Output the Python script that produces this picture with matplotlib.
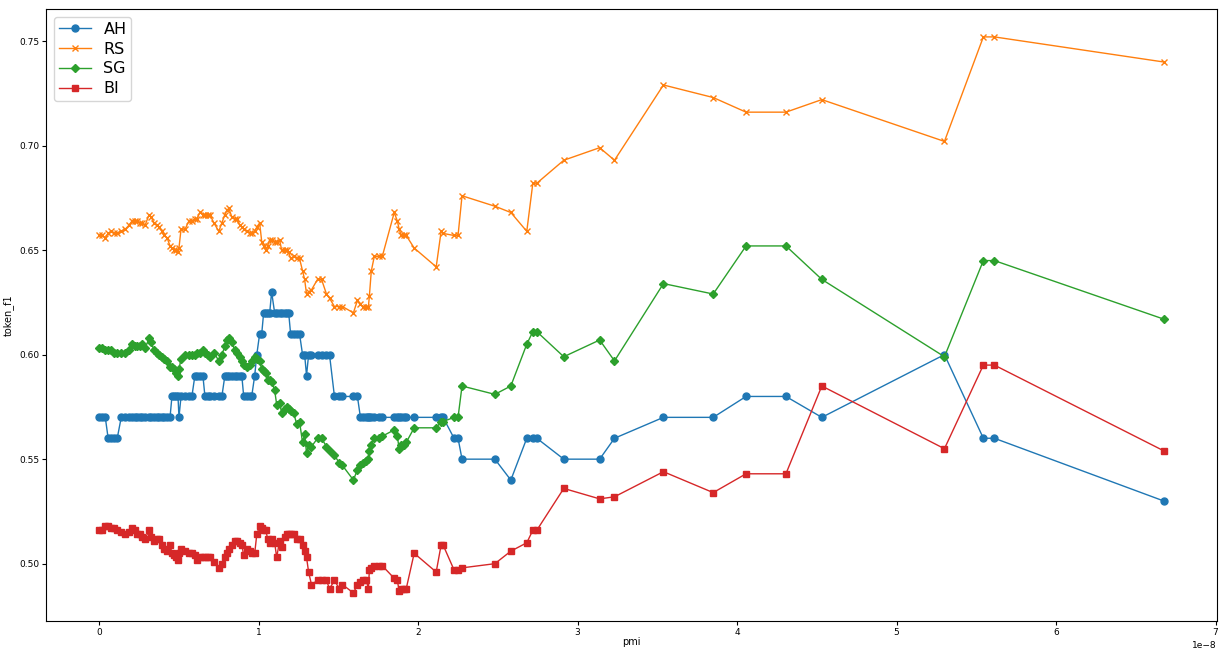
import matplotlib
matplotlib.use("Agg")
import matplotlib.pyplot as plt
import numpy as np

# pmi values (in units of 1e-8)
pmi = [
    0.000, 0.019, 0.038, 0.056, 0.075, 0.094, 0.113, 0.138, 0.163, 0.188,
    0.206, 0.225, 0.238, 0.256, 0.269, 0.288, 0.313, 0.325, 0.344, 0.363,
    0.375, 0.394, 0.406, 0.425, 0.444, 0.456, 0.469, 0.481, 0.494, 0.500,
    0.513, 0.538, 0.563, 0.581, 0.600, 0.613, 0.631, 0.650, 0.663, 0.681,
    0.694, 0.719, 0.750, 0.769, 0.788, 0.800, 0.813, 0.831, 0.850, 0.863,
    0.881, 0.894, 0.906, 0.925, 0.944, 0.956, 0.975, 0.988, 1.006, 1.019,
    1.031, 1.044, 1.056, 1.069, 1.081, 1.100, 1.113, 1.131, 1.144, 1.163,
    1.175, 1.188, 1.200, 1.219, 1.238, 1.256, 1.275, 1.288, 1.300, 1.313,
    1.331, 1.369, 1.394, 1.425, 1.444, 1.475, 1.506, 1.525, 1.594, 1.619,
    1.638, 1.656, 1.675, 1.688, 1.694, 1.706, 1.725, 1.756, 1.775, 1.850,
    1.869, 1.881, 1.894, 1.913, 1.925, 1.975, 2.113, 2.144, 2.156, 2.225,
    2.250, 2.275, 2.481, 2.581, 2.681, 2.719, 2.744, 2.913, 3.138, 3.231,
    3.538, 3.850, 4.056, 4.306, 4.531, 5.300, 5.544, 5.613, 6.675,
]

AH = [
    0.57, 0.57, 0.57, 0.56, 0.56, 0.56, 0.56, 0.57, 0.57, 0.57,
    0.57, 0.57, 0.57, 0.57, 0.57, 0.57, 0.57, 0.57, 0.57, 0.57,
    0.57, 0.57, 0.57, 0.57, 0.57, 0.58, 0.58, 0.58, 0.58, 0.57,
    0.58, 0.58, 0.58, 0.58, 0.59, 0.59, 0.59, 0.59, 0.58, 0.58,
    0.58, 0.58, 0.58, 0.58, 0.59, 0.59, 0.59, 0.59, 0.59, 0.59,
    0.59, 0.59, 0.58, 0.58, 0.58, 0.58, 0.59, 0.60, 0.61, 0.61,
    0.62, 0.62, 0.62, 0.62, 0.63, 0.62, 0.62, 0.62, 0.62, 0.62,
    0.62, 0.62, 0.61, 0.61, 0.61, 0.61, 0.60, 0.60, 0.59, 0.60,
    0.60, 0.60, 0.60, 0.60, 0.60, 0.58, 0.58, 0.58, 0.58, 0.58,
    0.57, 0.57, 0.57, 0.57, 0.57, 0.57, 0.57, 0.57, 0.57, 0.57,
    0.57, 0.57, 0.57, 0.57, 0.57, 0.57, 0.57, 0.57, 0.57, 0.56,
    0.56, 0.55, 0.55, 0.54, 0.56, 0.56, 0.56, 0.55, 0.55, 0.56,
    0.57, 0.57, 0.58, 0.58, 0.57, 0.60, 0.56, 0.56, 0.53,
]

RS = [
    0.657, 0.657, 0.656, 0.658, 0.659, 0.658, 0.658, 0.659, 0.660, 0.662,
    0.664, 0.664, 0.664, 0.663, 0.663, 0.662, 0.667, 0.666, 0.663, 0.662,
    0.661, 0.659, 0.657, 0.656, 0.652, 0.651, 0.650, 0.650, 0.649, 0.651,
    0.660, 0.660, 0.664, 0.664, 0.665, 0.665, 0.668, 0.667, 0.667, 0.667,
    0.667, 0.663, 0.659, 0.663, 0.667, 0.669, 0.670, 0.666, 0.665, 0.665,
    0.662, 0.661, 0.660, 0.659, 0.658, 0.658, 0.659, 0.661, 0.663, 0.654,
    0.652, 0.650, 0.652, 0.655, 0.655, 0.654, 0.654, 0.655, 0.650, 0.650,
    0.650, 0.649, 0.646, 0.647, 0.646, 0.646, 0.640, 0.636, 0.629, 0.630,
    0.631, 0.636, 0.636, 0.629, 0.627, 0.623, 0.623, 0.623, 0.620, 0.626,
    0.624, 0.623, 0.623, 0.623, 0.628, 0.640, 0.647, 0.647, 0.647, 0.668,
    0.664, 0.660, 0.657, 0.657, 0.657, 0.651, 0.642, 0.659, 0.658, 0.657,
    0.657, 0.676, 0.671, 0.668, 0.659, 0.682, 0.682, 0.693, 0.699, 0.693,
    0.729, 0.723, 0.716, 0.716, 0.722, 0.702, 0.752, 0.752, 0.740,
]

SG = [
    0.603, 0.603, 0.602, 0.602, 0.602, 0.601, 0.601, 0.601, 0.601, 0.602,
    0.605, 0.604, 0.604, 0.604, 0.605, 0.603, 0.608, 0.606, 0.602, 0.601,
    0.600, 0.599, 0.598, 0.597, 0.594, 0.594, 0.593, 0.591, 0.590, 0.593,
    0.598, 0.600, 0.600, 0.600, 0.600, 0.601, 0.601, 0.602, 0.601, 0.600,
    0.599, 0.601, 0.597, 0.600, 0.604, 0.607, 0.608, 0.606, 0.602, 0.601,
    0.599, 0.597, 0.595, 0.594, 0.595, 0.597, 0.599, 0.598, 0.597, 0.593,
    0.592, 0.591, 0.588, 0.588, 0.587, 0.583, 0.576, 0.577, 0.572, 0.574,
    0.575, 0.574, 0.573, 0.572, 0.567, 0.568, 0.558, 0.562, 0.553, 0.557,
    0.556, 0.560, 0.560, 0.556, 0.554, 0.552, 0.548, 0.547, 0.540, 0.545,
    0.547, 0.548, 0.549, 0.550, 0.554, 0.557, 0.560, 0.560, 0.561, 0.564,
    0.561, 0.555, 0.557, 0.557, 0.558, 0.565, 0.565, 0.568, 0.568, 0.570,
    0.570, 0.585, 0.581, 0.585, 0.605, 0.611, 0.611, 0.599, 0.607, 0.597,
    0.634, 0.629, 0.652, 0.652, 0.636, 0.599, 0.645, 0.645, 0.617,
]

BI = [
    0.516, 0.516, 0.518, 0.518, 0.517, 0.517, 0.516, 0.515, 0.514, 0.515,
    0.517, 0.516, 0.514, 0.514, 0.513, 0.512, 0.516, 0.513, 0.511, 0.512,
    0.512, 0.509, 0.507, 0.506, 0.509, 0.505, 0.504, 0.503, 0.502, 0.505,
    0.507, 0.506, 0.505, 0.505, 0.504, 0.502, 0.503, 0.503, 0.503, 0.503,
    0.503, 0.501, 0.498, 0.500, 0.503, 0.505, 0.507, 0.509, 0.511, 0.511,
    0.510, 0.509, 0.504, 0.507, 0.506, 0.505, 0.505, 0.514, 0.518, 0.517,
    0.516, 0.516, 0.512, 0.510, 0.512, 0.510, 0.503, 0.511, 0.508, 0.513,
    0.514, 0.514, 0.514, 0.514, 0.512, 0.512, 0.509, 0.506, 0.503, 0.496,
    0.490, 0.492, 0.492, 0.492, 0.488, 0.492, 0.488, 0.490, 0.486, 0.490,
    0.491, 0.492, 0.492, 0.488, 0.497, 0.498, 0.499, 0.499, 0.499, 0.493,
    0.492, 0.487, 0.488, 0.488, 0.488, 0.505, 0.496, 0.509, 0.509, 0.497,
    0.497, 0.498, 0.500, 0.506, 0.510, 0.516, 0.516, 0.536, 0.531, 0.532,
    0.544, 0.534, 0.543, 0.543, 0.585, 0.555, 0.595, 0.595, 0.554,
]

series = [
    ("AH", AH, "o", "#1f77b4", 5.0),
    ("RS", RS, "x", "#ff7f0e", 5.0),
    ("SG", SG, "D", "#2ca02c", 4.5),
    ("BI", BI, "s", "#d62728", 4.5),
]

x = np.array(pmi) * 1e-8

fig = plt.figure(figsize=(12.2, 6.5), dpi=100)
ax = fig.add_axes([0.0377, 0.045, 0.9598, 0.941])

for name, vals, marker, color, ms in series:
    ax.plot(x, vals, marker=marker, color=color, label=name,
            linewidth=1.0, markersize=ms)

ax.set_xlabel("pmi", fontsize=7, labelpad=0)
ax.set_ylabel("token_f1", fontsize=7, labelpad=4)
ax.tick_params(axis="both", labelsize=6.5, length=3, pad=2)
ax.xaxis.get_offset_text().set_fontsize(6.5)
ax.set_yticks([0.50, 0.55, 0.60, 0.65, 0.70, 0.75])
ax.legend(loc="upper left", fontsize=11.5, handlelength=2.0,
          borderpad=0.3, labelspacing=0.3, handletextpad=0.8)

fig.savefig("out.png", dpi=100)
